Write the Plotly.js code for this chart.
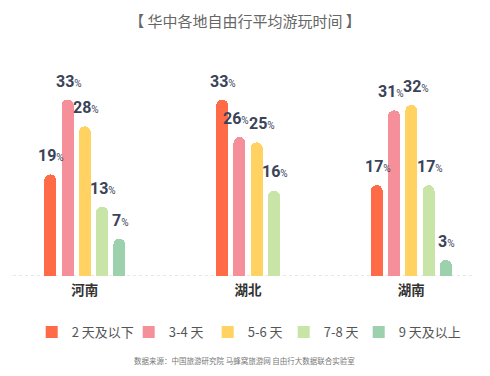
<!DOCTYPE html>
<html>
<head>
<meta charset="utf-8">
<script src="https://cdn.plot.ly/plotly-3.0.1.min.js"></script>
<style>html,body{margin:0;padding:0;background:#fff;}#chart{width:490px;height:376px;}</style>
</head>
<body>
<div id="chart"></div>
<script>
const categories = ['河南', '湖北', '湖南'];
const seriesNames = ['2 天及以下', '3-4 天', '5-6 天', '7-8 天', '9 天及以上'];
const s2OrLess = [19, 33, 17];
const s3to4 = [33, 26, 31];
const s5to6 = [28, 25, 32];
const s7to8 = [13, 16, 17];
const s9OrMore = [7, null, 3];
const colors = ['#ff6b47', '#f5909a', '#ffd262', '#c8e4a6', '#9dd1ae'];

const allSeries = [s2OrLess, s3to4, s5to6, s7to8, s9OrMore];
const pitch = 0.1058, barW = 0.0736;

function presentIn(ci) {
  return allSeries.map((s, k) => s[ci] == null ? -1 : k).filter(k => k >= 0);
}
// bars present in a category are centred on it
function xPos(si, ci) {
  const present = presentIn(ci);
  const idx = present.indexOf(si);
  return ci + (idx - (present.length - 1) / 2) * pitch;
}
// nudge labels of neighbouring bars with nearly equal values apart
function labelShift(si, ci) {
  const present = presentIn(ci);
  const idx = present.indexOf(si);
  const v = allSeries[si][ci];
  let sh = 0;
  if (idx > 0 && Math.abs(allSeries[present[idx - 1]][ci] - v) <= 2) sh += 4;
  if (idx < present.length - 1 && Math.abs(allSeries[present[idx + 1]][ci] - v) <= 2) sh -= 4;
  return sh;
}

const traces = [];
const annotations = [];
allSeries.forEach((vals, si) => {
  const xs = [], ys = [];
  vals.forEach((v, ci) => {
    if (v == null) return;
    const x = xPos(si, ci);
    xs.push(x); ys.push(v);
    annotations.push({
      x: x, y: v, xref: 'x', yref: 'y', yanchor: 'bottom', xanchor: 'center',
      yshift: 7, xshift: labelShift(si, ci) + 1, showarrow: false,
      text: '<b>' + v + '</b><span style="font-size:10px">%</span>',
      font: {family: 'Roboto, sans-serif', size: 16, color: '#3b4358'}
    });
  });
  traces.push({
    type: 'bar', name: seriesNames[si], x: xs, y: ys, width: barW,
    marker: {color: colors[si], cornerradius: 6},
    showlegend: false, hoverinfo: 'skip'
  });
});
// legend entries (square swatches)
const legendWidths = [52, 34, 31, 30, 60];
seriesNames.forEach((n, si) => {
  traces.push({
    type: 'bar', name: n, x: [null], y: [null],
    marker: {color: colors[si]}, legendwidth: legendWidths[si],
    showlegend: true, hoverinfo: 'skip'
  });
});

annotations.push({
  xref: 'paper', yref: 'paper', x: 0.5, y: -0.39, xanchor: 'center', yanchor: 'middle',
  showarrow: false, text: '数据来源：中国旅游研究院 马蜂窝旅游网 自由行大数据联合实验室',
  font: {family: '"Noto Sans CJK SC", sans-serif', size: 7.5, color: '#777'}
});

const layout = {
  width: 490, height: 376,
  margin: {l: 13, r: 15, t: 60, b: 100},
  paper_bgcolor: '#fff', plot_bgcolor: '#fff',
  font: {family: '"Noto Sans CJK SC", sans-serif'},
  title: {
    text: '【 华中各地自由行平均游玩时间 】',
    x: 0.5, xanchor: 'center', y: 0.943, yanchor: 'middle', yref: 'container',
    font: {family: '"Noto Sans CJK SC", sans-serif', size: 15, color: '#666'}
  },
  xaxis: {
    type: 'linear', range: [-0.44, 2.39],
    tickvals: [0, 1, 2], ticktext: categories.map(c => '<b>' + c + '</b>'),
    showgrid: false, zeroline: false, showline: false, ticks: '',
    ticklabelstandoff: 4,
    tickfont: {family: '"Noto Sans CJK SC", sans-serif', size: 13.5, color: '#333'}
  },
  yaxis: {
    range: [0, 40.4], visible: false, showgrid: false, zeroline: false
  },
  showlegend: true,
  legend: {
    orientation: 'h', x: 0.508, xanchor: 'center', y: -0.26, yanchor: 'middle',
    font: {family: '"Noto Sans CJK SC", sans-serif', size: 13, color: '#555'},
    itemclick: false, itemdoubleclick: false
  },
  shapes: [{
    type: 'line', xref: 'paper', yref: 'y', x0: 0, x1: 1, y0: 0, y1: 0,
    line: {color: '#cfcfcf', width: 1, dash: 'dot'}, layer: 'below'
  }],
  annotations: annotations,
  bargap: 0
};

Plotly.newPlot('chart', traces, layout, {displayModeBar: false, staticPlot: true});
</script>
</body>
</html>
